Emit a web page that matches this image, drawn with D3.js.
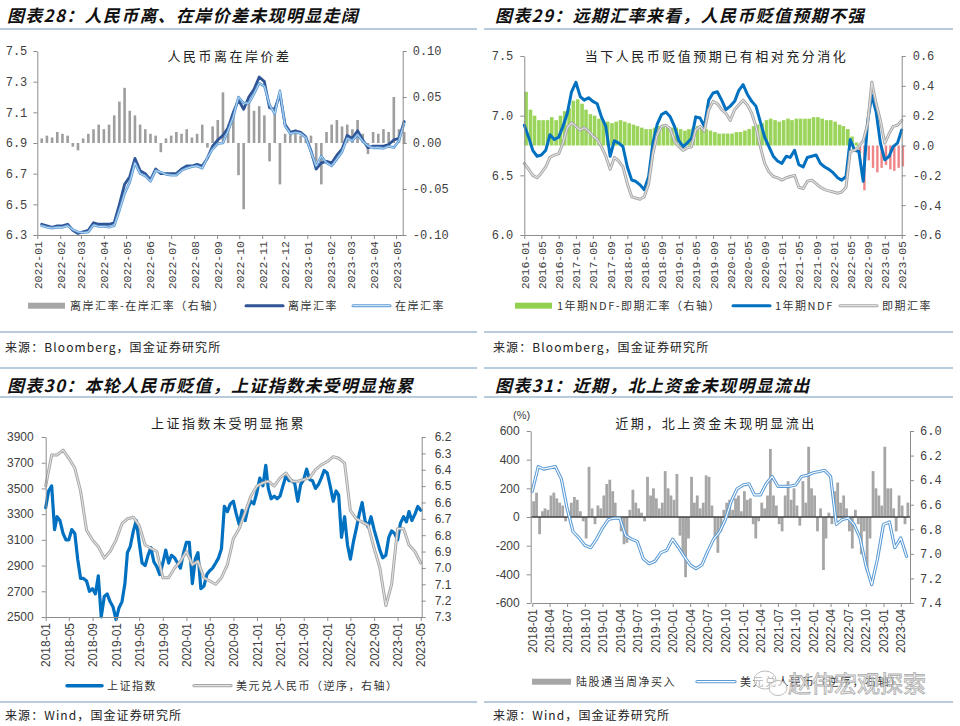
<!DOCTYPE html>
<html><head><meta charset="utf-8">
<script src="https://cdn.jsdelivr.net/npm/d3@7"></script>
<style>
body{margin:0;background:#fff;}
svg{display:block;background:#fff;}
</style></head><body>
<svg id="c" width="960" height="726"></svg>
<script>
// ---------------- DATA ----------------
// Panel 1 (weekly, from 2022-01-07)
const p1Offshore = [6.37,6.36,6.35,6.36, 6.36,6.37,6.33,6.31, 6.32,6.33,6.38,6.37, 6.37,6.37,6.38,6.50,6.63, 6.68,6.80,6.72,6.70, 6.66,6.73,6.70,6.70, 6.70,6.70,6.73,6.75,6.75, 6.76,6.75,6.80,6.88, 6.92,6.95,7.00,7.10,7.18, 7.12,7.20,7.25,7.33, 7.30,7.13,7.12,7.22, 7.02,6.97,6.98,6.97,6.94, 6.85,6.73,6.77,6.78, 6.77,6.82,6.86,6.95, 6.93,6.98,6.92,6.87,6.88, 6.88,6.88,6.89,6.92, 6.93,7.04];
const p1Onshore = [6.36,6.35,6.345,6.35, 6.35,6.36,6.335,6.32, 6.315,6.32,6.365,6.355, 6.355,6.35,6.36,6.46,6.57, 6.645,6.77,6.70,6.685, 6.65,6.72,6.71,6.695, 6.69,6.69,6.72,6.735,6.745, 6.75,6.735,6.805,6.86, 6.895,6.90,6.98,7.07,7.20, 7.16,7.16,7.22,7.29, 7.27,7.15,7.09,7.24, 7.01,6.96,6.968,6.962,6.935, 6.842,6.75,6.815,6.77, 6.75,6.795,6.842,6.93, 6.915,6.955,6.91,6.882,6.868, 6.87,6.865,6.878,6.87, 6.915,7.028];
const p1Spread = [0.005,0.008,0.006,0.012, 0.010,0.008,-0.004,-0.008, 0.005,0.010,0.015,0.020, 0.015,0.020,0.030,0.045,0.060, 0.035,0.030,0.020,0.015, 0.010,0.008,-0.010,0.005, 0.008,0.012,0.010,0.015,0.006, 0.010,0.020,-0.005,0.018, 0.025,0.055,0.020,0.030,-0.035, -0.072,0.045,0.035,0.040, 0.030,-0.020,0.035,-0.045, 0.010,0.010,0.012,0.008,0.005, 0.008,-0.020,-0.045,0.012, 0.020,0.025,0.018,0.020, 0.015,0.025,0.010,-0.012,0.012, 0.010,0.015,0.012,0.050, 0.015,0.012];
const p1XTicks = ["2022-01","2022-02","2022-03","2022-04","2022-05","2022-06","2022-07","2022-08","2022-09","2022-10","2022-11","2022-12","2023-01","2023-02","2023-03","2023-04","2023-05"];
const p1LeftTicks = [6.3,6.5,6.7,6.9,7.1,7.3,7.5];
const p1RightTicks = [-0.10,-0.05,0,0.05,0.10];

// Panel 2 (monthly, from 2016-01)
const p2NDF = [6.92,6.82,6.71,6.66,6.67,6.71,6.84,6.80,6.82,6.91,7.02,7.20, 7.28,7.16,7.13,7.15,7.12,7.10,6.99,6.91,6.66,6.79,6.77,6.74, 6.57,6.46,6.45,6.42,6.38,6.49,6.77,6.93,7.01,7.03,6.99,6.91, 6.79,6.74,6.77,6.81,6.99,6.98,6.91,7.13,7.19,7.20,7.13,7.05, 7.08,7.12,7.21,7.26,7.18,7.12,7.08,6.95,6.82,6.74,6.66,6.62, 6.60,6.66,6.65,6.71,6.59,6.57,6.65,6.66,6.67,6.60,6.57,6.55, 6.52,6.48,6.46,6.49,6.80,6.71,6.70,6.45,6.95,7.17,7.03,6.77, 6.63,6.66,6.74,6.77,6.88];
const p2Spot = [6.60,6.55,6.50,6.48,6.52,6.57,6.65,6.67,6.68,6.77,6.90,6.94, 6.91,6.88,6.90,6.87,6.83,6.80,6.74,6.66,6.55,6.65,6.62,6.57, 6.43,6.32,6.31,6.30,6.32,6.43,6.68,6.84,6.91,6.92,6.89,6.79, 6.74,6.71,6.73,6.74,6.88,6.91,6.87,7.05,7.12,7.10,7.05,7.02, 6.96,7.05,7.09,7.13,7.09,7.02,6.91,6.74,6.60,6.53,6.49,6.48, 6.46,6.48,6.49,6.50,6.40,6.39,6.45,6.46,6.43,6.40,6.38,6.37, 6.36,6.35,6.36,6.40,6.70,6.71,6.74,6.79,6.93,7.28,7.10,6.96, 6.77,6.85,6.91,6.92,6.96];
const p2Spread = [0.36,0.24,0.20,0.17,0.17,0.17,0.19,0.17,0.20,0.23,0.25,0.30, 0.31,0.28,0.24,0.21,0.20,0.18,0.17,0.16,0.15,0.16,0.17,0.16, 0.15,0.14,0.13,0.12,0.11,0.11,0.12,0.13,0.14,0.13,0.12,0.12, 0.11,0.10,0.11,0.12,0.13,0.12,0.11,0.10,0.09,0.08,0.08,0.08, 0.08,0.09,0.09,0.10,0.11,0.13,0.14,0.15,0.17,0.18,0.17,0.16, 0.17,0.18,0.17,0.18,0.18,0.18,0.18,0.19,0.19,0.18,0.17,0.17, 0.16,0.14,0.13,0.11,0.06,0.02,-0.05,-0.30,-0.10,-0.15,-0.18,-0.15, -0.13,-0.16,-0.17,-0.15,-0.14];
const p2XTicks = ["2016-01","2016-05","2016-09","2017-01","2017-05","2017-09","2018-01","2018-05","2018-09","2019-01","2019-05","2019-09","2020-01","2020-05","2020-09","2021-01","2021-05","2021-09","2022-01","2022-05","2022-09","2023-01","2023-05"];
const p2LeftTicks = [6.0,6.5,7.0,7.5];
const p2RightTicks = [-0.6,-0.4,-0.2,0,0.2,0.4,0.6];

// Panel 3 (SSE: half-monthly from 2018-01-01; USD/CNY: monthly from 2018-01)
const p3SSE = [3350,3480,3520,3180,3280,3250,3150,3100,3100,3180,3150,2950,2800,2800,2780,2700,2720,2680,2820,2500,2660,2680,2620,2580,
  2480,2570,2620,2760,3000,3050,3170,3250,3080,2920,2900,2980,3040,2930,2890,2830,2920,3020,2920,2980,2960,2920,2880,2990,
  3080,3080,2760,2950,3000,2720,2740,2830,2860,2880,2920,2960,3030,3360,3320,3380,3400,3300,3220,3330,3250,3350,3400,3380,
  3470,3580,3520,3680,3500,3420,3440,3420,3440,3520,3600,3560,3560,3540,3400,3530,3570,3650,3570,3560,3500,3530,3580,3640,
  3620,3520,3400,3480,3450,3120,3280,3060,2950,3080,3190,3300,3390,3250,3200,3280,3180,3100,3020,2960,2980,3120,3170,3150,
  3100,3230,3280,3240,3320,3250,3300,3360,3330];
const p3USDCNY = [6.50,6.31,6.31,6.28,6.33,6.39,6.53,6.77,6.83,6.87,6.94,6.90, 6.83,6.73,6.70,6.69,6.74,6.86,6.88,6.90,7.06,7.06,7.00,6.96, 6.90,6.98,6.96,7.06,7.08,7.10,7.06,6.98,6.82,6.76,6.66,6.56, 6.50,6.48,6.47,6.50,6.45,6.42,6.47,6.47,6.46,6.45,6.40,6.37, 6.35,6.32,6.33,6.36,6.65,6.70,6.72,6.74,6.88,7.00,7.23,7.10, 6.76,6.76,6.86,6.90,6.97];
const p3XTicks = ["2018-01","2018-05","2018-09","2019-01","2019-05","2019-09","2020-01","2020-05","2020-09","2021-01","2021-05","2021-09","2022-01","2022-05","2022-09","2023-01","2023-05"];
const p3LeftTicks = [2500,2700,2900,3100,3300,3500,3700,3900];
const p3RightTicks = [6.2,6.3,6.4,6.5,6.6,6.7,6.8,6.9,7.0,7.1,7.2,7.3];

// Panel 4 (bars: half-monthly from 2018-01; line: monthly from 2018-01)
const p4Flow = [110,170, -120,40, 60,50, 150,170, 130,100, 80,-30, 40,100, 140,120, 40,-30, -150,350, 60,-50, 80,60,
  150,230, 260,180, 100,-20, -100,-190, -180,50, 190,100, 60,30, -30,280, 150,200, 130,60, 100,320, 200,150,
  120,300, -130,-260, -420,-150, 280,100, 150,60, 100,290, 280,80, -150,-250, -100,50, 100,120, 50,130, 150,40,
  180,120, 130,-50, -150,-30, 100,60, 150,475, 150,80, -50,-100, 150,250, 120,200, 80,-60, 250,100, 490,200,
  150,-100, 60,-370, -150,30, -50,180, 240,100, 150,60, -100,-220, 50,-50, -260,-100, -380,-150, 320,200, 150,80,
  490,200, 200,60, -100,150, 80,-50, 100];
const p4USDCNY = [6.49,6.29,6.31,6.30,6.29,6.39,6.63,6.82,6.87,6.93,6.95,6.88, 6.79,6.72,6.71,6.71,6.85,6.88,6.90,7.04,7.08,7.06,6.99,6.97, 6.88,6.95,7.02,7.09,7.12,7.09,6.98,6.88,6.82,6.72,6.57,6.47, 6.44,6.43,6.52,6.52,6.43,6.37,6.45,6.45,6.45,6.44,6.37,6.36, 6.34,6.33,6.32,6.37,6.76,6.72,6.71,6.76,6.87,7.09,7.25,7.04, 6.76,6.74,6.95,6.87,7.02];
const p4XTicks = ["2018-01","2018-04","2018-07","2018-10","2019-01","2019-04","2019-07","2019-10","2020-01","2020-04","2020-07","2020-10","2021-01","2021-04","2021-07","2021-10","2022-01","2022-04","2022-07","2022-10","2023-01","2023-04"];
const p4LeftTicks = [-600,-400,-200,0,200,400,600];
const p4RightTicks = [6.0,6.2,6.4,6.6,6.8,7.0,7.2,7.4];

// ---------------- HELPERS ----------------
const svg = d3.select("#c");
const CJK = '"Noto Sans CJK SC","Noto Sans",sans-serif';
const MONO = '"Liberation Mono","DejaVu Sans Mono",monospace';
const SANS = '"Liberation Sans",Arial,sans-serif';
const AX = "#8c8c8c", TXT = "#404040", RULE = "#9fbad0";
const parseYM = d3.timeParse("%Y-%m");

function styleAxis(g, font, size){
  g.select(".domain").attr("stroke", AX);
  g.selectAll(".tick line").attr("stroke", AX);
  g.selectAll(".tick text").attr("fill", TXT).style("font-family", font).style("font-size", size + "px");
}
function yLeft(scale, x, vals, fmt, font, size, pad){
  const g = svg.append("g").attr("transform", `translate(${x},0)`)
    .call(d3.axisLeft(scale).tickValues(vals).tickFormat(fmt).tickSize(4).tickSizeOuter(0).tickPadding(pad));
  styleAxis(g, font, size);
}
function yRight(scale, x, vals, fmt, font, size, pad){
  const g = svg.append("g").attr("transform", `translate(${x},0)`)
    .call(d3.axisRight(scale).tickValues(vals).tickFormat(fmt).tickSize(4).tickSizeOuter(0).tickPadding(pad));
  styleAxis(g, font, size);
}
function xBottom(scale, y, strs, font, size){
  const g = svg.append("g").attr("transform", `translate(0,${y})`)
    .call(d3.axisBottom(scale).tickValues(strs.map(parseYM)).tickFormat((d,i) => strs[i]).tickSize(4).tickSizeOuter(0));
  styleAxis(g, font, size);
  g.selectAll(".tick text").attr("transform", "rotate(-90)").attr("text-anchor", "end")
    .attr("x", -6).attr("y", 0).attr("dy", "0.35em");
}
function txt(x, y, s, opts){
  const o = Object.assign({size:12, font:CJK, fill:"#333", anchor:"start", ls:0, weight:"normal", style:"normal"}, opts||{});
  return svg.append("text").attr("x", x).attr("y", y).text(s)
    .attr("font-family", o.font).attr("font-size", o.size).attr("fill", o.fill)
    .attr("text-anchor", o.anchor).attr("letter-spacing", o.ls)
    .attr("font-weight", o.weight).attr("font-style", o.style);
}
function rule(x1, x2, y){
  svg.append("line").attr("x1", x1).attr("x2", x2).attr("y1", y).attr("y2", y)
    .attr("stroke", RULE).attr("stroke-width", 1.5);
}
function path(d, color, w){
  return svg.append("path").attr("d", d).attr("fill", "none").attr("stroke", color)
    .attr("stroke-width", w).attr("stroke-linejoin", "round").attr("stroke-linecap", "round");
}
function dbl(d, outer, inner, wo, wi){ path(d, outer, wo); path(d, inner, wi); }
function legLine(x1, x2, y, color, w){ path(`M${x1},${y}H${x2}`, color, w); }
function legDbl(x1, x2, y, outer, inner, wo, wi){ dbl(`M${x1},${y}H${x2}`, outer, inner, wo, wi); }
function legRect(x1, x2, y, color){
  svg.append("rect").attr("x", x1).attr("y", y - 3).attr("width", x2 - x1).attr("height", 6).attr("fill", color);
}
const f1 = d3.format(".1f"), f2 = d3.format(".2f"), f0 = d3.format("d");
const hy = s => s.replace("\u2212", "-");

// ---------------- FRAME / TITLES ----------------
const titleOpts = {size:17, fill:"#111", weight:"bold", style:"italic", ls:1.3};
txt(7, 22, "图表28：人民币离、在岸价差未现明显走阔", titleOpts);
txt(495, 22, "图表29：远期汇率来看，人民币贬值预期不强", titleOpts);
txt(7, 392, "图表30：本轮人民币贬值，上证指数未受明显拖累", titleOpts);
txt(495, 392, "图表31：近期，北上资金未现明显流出", titleOpts);
rule(0, 477, 29); rule(484, 953, 29);
rule(0, 477, 332); rule(484, 953, 332);
rule(0, 477, 368); rule(484, 953, 368);
rule(0, 477, 397); rule(484, 953, 397);
rule(0, 477, 702); rule(484, 953, 702);
const srcOpts = {size:12, fill:"#222", ls:1.1};
txt(5, 352, "来源：Bloomberg，国金证券研究所", srcOpts);
txt(493, 352, "来源：Bloomberg，国金证券研究所", srcOpts);
txt(5, 720, "来源：Wind，国金证券研究所", srcOpts);
txt(493, 720, "来源：Wind，国金证券研究所", srcOpts);

const ctOpts = {size:13, fill:"#222", anchor:"middle", ls:2.5};
const legOpts = {size:11, fill:"#333", ls:1.5};

// ---------------- PANEL 1 ----------------
{
  const dates = p1Offshore.map((v,i) => d3.timeDay.offset(new Date(2022,0,7), 7*i));
  const x = d3.scaleTime().domain([new Date(2022,0,1), new Date(2023,4,10)]).range([37.3, 402.7]);
  const yL = d3.scaleLinear().domain([6.3, 7.5]).range([235, 51]);
  const yR = d3.scaleLinear().domain([-0.1, 0.1]).range([235, 51]);
  txt(229.5, 61, "人民币离在岸价差", ctOpts);
  svg.append("g").selectAll("rect").data(p1Spread).join("rect")
    .attr("x", (d,i) => x(dates[i]) - 1.3).attr("width", 2.6)
    .attr("y", d => Math.min(yR(d), yR(0))).attr("height", d => Math.abs(yR(d) - yR(0)))
    .attr("fill", "#9e9e9e");
  const lOff = d3.line().x((d,i) => x(dates[i])).y(d => yL(d));
  path(lOff(p1Offshore), "#2f5597", 2.8);
  dbl(lOff(p1Onshore), "#5b9bd5", "#c9def3", 2.6, 0.9);
  yLeft(yL, 37.3, p1LeftTicks, f1, MONO, 12, 6);
  yRight(yR, 402.7, p1RightTicks, d => hy(f2(d)), MONO, 12, 6);
  xBottom(x, 235, p1XTicks, MONO, 11.5);
  legRect(28, 65, 305.7, "#a6a6a6");
  txt(70, 310, "离岸汇率-在岸汇率（右轴）", legOpts);
  legLine(246, 283, 305.7, "#2f5597", 3);
  txt(288, 310, "离岸汇率", legOpts);
  legDbl(353, 390, 305.7, "#5b9bd5", "#c9def3", 3, 1.2);
  txt(395, 310, "在岸汇率", legOpts);
}

// ---------------- PANEL 2 ----------------
{
  const dates = p2NDF.map((v,i) => d3.timeMonth.offset(new Date(2016,0,1), i));
  const x = d3.scaleTime().domain([new Date(2016,0,1), new Date(2023,4,1)]).range([524.3, 901.7]);
  const yL = d3.scaleLinear().domain([6.0, 7.5]).range([235, 56]);
  const yR = d3.scaleLinear().domain([-0.6, 0.6]).range([235, 56]);
  txt(716.5, 61, "当下人民币贬值预期已有相对充分消化", ctOpts);
  svg.append("g").selectAll("rect").data(p2Spread).join("rect")
    .attr("x", (d,i) => x(dates[i])).attr("width", d => d >= 0 ? 3.6 : 2.4)
    .attr("y", d => Math.min(yR(d), yR(0))).attr("height", d => Math.abs(yR(d) - yR(0)))
    .attr("fill", d => d >= 0 ? "#9bd45a" : "#ee8587");
  const ln = d3.line().x((d,i) => x(dates[i])).y(d => yL(d));
  path(ln(p2NDF), "#0070c0", 3);
  dbl(ln(p2Spot), "#a6a6a6", "#e3e3e3", 3, 1.1);
  yLeft(yL, 524.3, p2LeftTicks, f1, MONO, 12, 7);
  yRight(yR, 901.7, p2RightTicks, d => hy(f1(d)), MONO, 12, 7);
  xBottom(x, 235, p2XTicks, MONO, 11.5);
  legRect(515, 552, 305.7, "#92d050");
  txt(557, 310, "1年期NDF-即期汇率（右轴）", legOpts);
  legLine(733, 770, 305.7, "#0070c0", 3);
  txt(775, 310, "1年期NDF", legOpts);
  legDbl(840, 877, 305.7, "#a6a6a6", "#e3e3e3", 3, 1.2);
  txt(882, 310, "即期汇率", legOpts);
}

// ---------------- PANEL 3 ----------------
{
  const sDates = p3SSE.map((v,i) => new Date(2018, Math.floor(i/2), i % 2 ? 16 : 1));
  const dates = p3USDCNY.map((v,i) => d3.timeMonth.offset(new Date(2018,0,1), i));
  const x = d3.scaleTime().domain([new Date(2018,0,1), new Date(2023,4,6)]).range([45.7, 421.7]);
  const yL = d3.scaleLinear().domain([2500, 3900]).range([617, 437]);
  const yR = d3.scaleLinear().domain([6.2, 7.3]).range([437, 617]);
  txt(228.5, 428, "上证指数未受明显拖累", ctOpts);
  path(d3.line().x((d,i) => x(sDates[i])).y(d => yL(d))(p3SSE), "#0070c0", 3.2);
  dbl(d3.line().x((d,i) => x(dates[i])).y(d => yR(d))(p3USDCNY), "#a6a6a6", "#e3e3e3", 3, 1.1);
  yLeft(yL, 45.7, p3LeftTicks, f0, SANS, 12, 8);
  yRight(yR, 421.7, p3RightTicks, f1, SANS, 12, 9);
  xBottom(x, 617, p3XTicks, SANS, 12);
  legLine(67, 102, 685.7, "#0070c0", 3.5);
  txt(107, 690, "上证指数", legOpts);
  legDbl(194, 231, 685.7, "#a6a6a6", "#e3e3e3", 3.2, 1.2);
  txt(236, 690, "美元兑人民币（逆序，右轴）", legOpts);
}

// ---------------- PANEL 4 ----------------
{
  const bDates = p4Flow.map((v,i) => new Date(2018, Math.floor(i/2), i % 2 ? 23 : 8));
  const lDates = p4USDCNY.map((v,i) => d3.timeMonth.offset(new Date(2018,0,1), i));
  const x = d3.scaleTime().domain([new Date(2018,0,1), new Date(2023,4,19)]).range([532.3, 910]);
  const yL = d3.scaleLinear().domain([-600, 600]).range([603, 431]);
  const yR = d3.scaleLinear().domain([6.0, 7.4]).range([431, 603]);
  txt(716, 428, "近期，北上资金未现明显流出", ctOpts);
  txt(513, 419, "(%)", {size:11, font:SANS, fill:"#404040"});
  svg.append("g").selectAll("rect").data(p4Flow).join("rect")
    .attr("x", (d,i) => x(bDates[i]) - 1.4).attr("width", 2.8)
    .attr("y", d => Math.min(yL(d), yL(0))).attr("height", d => Math.abs(yL(d) - yL(0)))
    .attr("fill", "#a6a6a6");
  svg.append("line").attr("x1", 530.7).attr("x2", 910).attr("y1", yL(0)).attr("y2", yL(0))
    .attr("stroke", "#404040").attr("stroke-width", 1.3);
  dbl(d3.line().x((d,i) => x(lDates[i])).y(d => yR(d))(p4USDCNY), "#5b9bd5", "#ffffff", 3.2, 1.1);
  yLeft(yL, 530.7, p4LeftTicks, d => hy(f0(d)), SANS, 12, 7);
  yRight(yR, 910, p4RightTicks, f1, MONO, 12, 6);
  xBottom(x, 603, p4XTicks, SANS, 12);
  legRect(532, 571, 681.7, "#a6a6a6");
  txt(576, 686, "陆股通当周净买入", legOpts);
  legDbl(697, 735, 681.7, "#5b9bd5", "#ffffff", 3.2, 1.2);
  txt(740, 686, "美元兑人民币（逆序，右轴）", legOpts);
  // watermark
  const wm = svg.append("g").attr("opacity", 0.9);
  wm.append("ellipse").attr("cx", 765).attr("cy", 680).attr("rx", 11).attr("ry", 9)
    .attr("fill", "#fff").attr("fill-opacity", 0.7).attr("stroke", "#b5b5b5").attr("stroke-width", 1);
  wm.append("ellipse").attr("cx", 778).attr("cy", 688).attr("rx", 9).attr("ry", 7.5)
    .attr("fill", "#fff").attr("fill-opacity", 0.7).attr("stroke", "#b5b5b5").attr("stroke-width", 1);
  wm.append("text").attr("x", 788).attr("y", 692).text("赵伟宏观探索")
    .attr("font-family", CJK).attr("font-size", 23).attr("fill", "#ffffff").attr("fill-opacity", 0.75)
    .attr("stroke", "#a8a8a8").attr("stroke-width", 0.9);
}
</script>
</body></html>
